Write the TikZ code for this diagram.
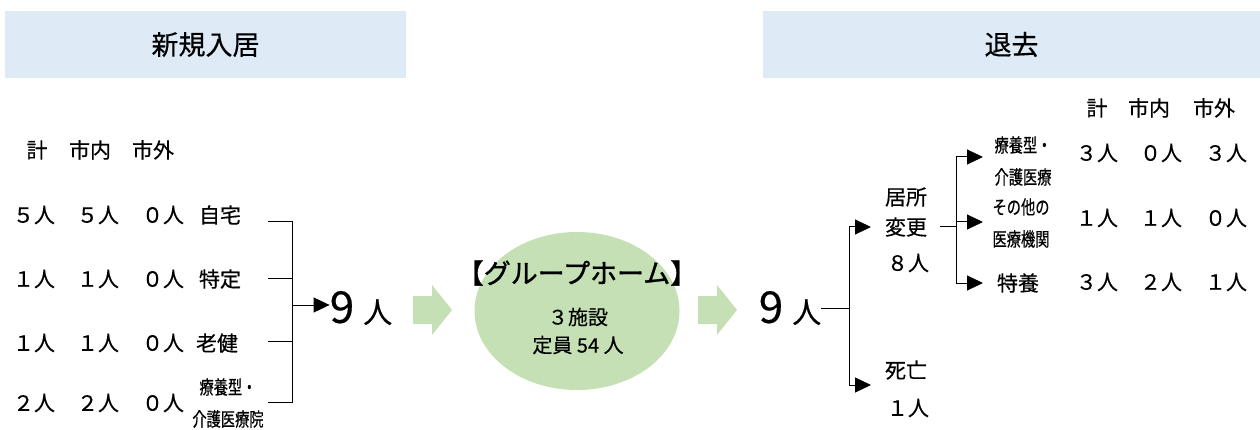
\documentclass[tikz,border=0pt]{standalone}
\usepackage{fontspec}
\setmainfont{Noto Sans CJK JP}[FakeBold=0.4]
\newfontfamily\narrowfont[FakeStretch=0.75,FakeBold=0.4]{Noto Sans CJK JP}
\newfontfamily\titlefont[FakeBold=1.2]{Noto Sans CJK JP}
\usetikzlibrary{shapes.geometric,arrows.meta}
\definecolor{headblue}{HTML}{DEEAF6}
\definecolor{homegreen}{HTML}{C5E0B4}

\begin{document}
\begin{tikzpicture}[x=1pt, y=-1pt,
	txt/.style={inner sep=0pt, font=\fontsize{21}{24}\selectfont},
	cond/.style={inner sep=0pt, align=center, font=\narrowfont\fontsize{19}{32}\selectfont},
	hdr/.style={fill=headblue, inner sep=0pt, minimum height=67, font=\fontsize{27}{30}\selectfont},
	total/.style={inner sep=0pt},
	conn/.style={line width=1pt},
	arr/.style={line width=1pt, -{Triangle[length=16pt,width=15pt]}},
	blockarrow/.pic={\fill[homegreen] (0,-14) -- (19,-14) -- (19,-25) -- (39,0) -- (19,25) -- (19,14) -- (0,14) -- cycle;}]

	\useasboundingbox (0,0) rectangle (1260,430);

	\node[hdr, minimum width=401] (inhead) at (205.5,44.5) {新規入居};
	\node[hdr, minimum width=497] (outhead) at (1011.5,44.5) {退去};

	% new residents
	\foreach \t/\x [count=\i] in {計/37, 市内/90, 市外/153}
		\node[txt] (inhd\i) at (\x,150) {\t};
	\foreach \a/\b/\c/\y [count=\i] in {５/５/０/215, １/１/０/279, １/１/０/343, ２/２/０/403} {
		\node[txt] (insum\i) at (34,\y) {\a 人};
		\node[txt] (incity\i) at (98,\y) {\b 人};
		\node[txt] (inout\i) at (163,\y) {\c 人};
	}
	\node[txt] (infrom1) at (220,215) {自宅};
	\node[txt] (infrom2) at (220,279) {特定};
	\node[txt] (infrom3) at (217,343) {老健};
	\node[cond] (infrom4) at (228,403) {療養型・\\介護医療院};

	\coordinate (injoin) at (292,305);
	\foreach \y [count=\i] in {222, 278, 341, 402} {
		\coordinate (inb\i) at (268,\y);
		\draw[conn] (inb\i) -| (injoin);
	}
	\node[total] (intotal) at (361,308) {\fontsize{44}{44}\selectfont 9\hspace{9pt}\fontsize{29}{29}\selectfont 人};
	\draw[arr] (injoin) -- (injoin -| intotal.west);

	% group home
	\pic at (413,310) {blockarrow};
	\node[ellipse, fill=homegreen, minimum width=205, minimum height=158, inner sep=0pt] (home) at (577,311) {};
	\node[inner sep=0pt, font=\titlefont\fontsize{27}{30}\selectfont] (hometitle) at (577,273) {【グループホーム】};
	\node[txt, align=center, font=\fontsize{20}{28}\selectfont] (homeinfo) at (578,331) {３施設\\定員 54 人};
	\pic at (698,310) {blockarrow};

	% leaving
	\node[total] (outtotal) at (790,308) {\fontsize{44}{44}\selectfont 9\hspace{9pt}\fontsize{29}{29}\selectfont 人};
	\coordinate (outjoin) at (849,308);
	\draw[conn] (outtotal.east) -- (outjoin);

	\node[txt] (move1) at (906,197) {居所};
	\node[txt] (move2) at (906,227) {変更};
	\node[txt] (move3) at (908,263) {８人};
	\node[txt] (death1) at (906,370) {死亡};
	\node[txt] (death2) at (908,408) {１人};
	\coordinate (movein) at (871,227);
	\coordinate (deathin) at (871,385);
	\draw[arr] (outjoin) |- (movein);
	\draw[arr] (outjoin) |- (deathin);

	\coordinate (moveout) at (940,227);
	\coordinate (subjoin) at (956,227);
	\draw[conn] (moveout) -- (subjoin);
	\foreach \y [count=\i] in {157, 222, 283} {
		\coordinate (subin\i) at (983,\y);
		\draw[arr] (subjoin) |- (subin\i);
	}
	\node[cond] (subto1) at (1023,161) {療養型・\\介護医療};
	\node[cond] (subto2) at (1021,223) {その他の\\医療機関};
	\node[txt] (subto3) at (1018,283) {特養};

	\foreach \t/\x [count=\i] in {計/1097, 市内/1149, 市外/1214}
		\node[txt] (outhd\i) at (\x,108) {\t};
	\foreach \a/\b/\c/\y [count=\i] in {３/０/３/153, １/１/０/218, ３/２/１/282} {
		\node[txt] (outsum\i) at (1097,\y) {\a 人};
		\node[txt] (outcity\i) at (1161,\y) {\b 人};
		\node[txt] (outout\i) at (1226,\y) {\c 人};
	}

\end{tikzpicture}
\end{document}
